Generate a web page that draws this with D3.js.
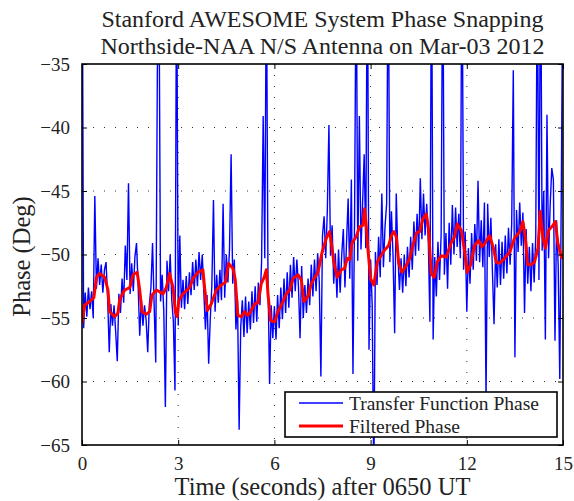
<!DOCTYPE html>
<html>
<head>
<meta charset="utf-8">
<script src="https://cdn.jsdelivr.net/npm/d3@7"></script>
<style>
  html, body { margin: 0; padding: 0; background: #fff; }
  text { font-family: "Liberation Serif", "Times New Roman", serif; fill: #222; }
</style>
</head>
<body>
<div id="main"></div>
<script>
// ---- data ----
const xTicks = [0, 3, 6, 9, 12, 15];
const yTicks = [-65, -60, -55, -50, -45, -40, -35];
const blueStart = 0;      // seconds
const blueStep = 0.05;    // sample spacing, seconds

// transfer function phase (deg), one row per second
const bluePhase = [
  -20, -55.8, -53.0, -54.9, -52.6, -54.3, -52.9, -55.0, -45.4, -52.7, -50.3, -52.4, -50.8, -53.0, -51.2, -50.6, -53.5, -57.7, -53.9, -55.6,
  -54.0, -56.1, -58.4, -53.1, -54.6, -51.9, -53.8, -49.3, -52.0, -44.4, -53.1, -50.7, -52.9, -50.2, -49.1, -52.4, -56.4, -53.5, -55.6, -54.0,
  -55.2, -57.7, -53.9, -52.6, -49.1, -54.0, -58.5, -35.5, -28, -53.7, -51.6, -54.4, -62.0, -50.5, -52.9, -50.0, -53.6, -55.3, -60.7, -25,
  -55.6, -48.5, -54.2, -52.0, -54.3, -51.7, -53.9, -51.4, -53.2, -50.6, -52.8, -50.4, -52.5, -49.8, -52.0, -50.0, -53.0, -55.9, -53.2, -58.6,
  -55.1, -52.4, -45.7, -54.5, -51.6, -53.8, -51.2, -53.6, -46.0, -53.4, -50.0, -52.2, -49.6, -42.1, -52.3, -50.4, -55.9, -53.6, -63.8, -55.7,
  -53.6, -56.5, -53.3, -56.2, -53.7, -55.9, -52.9, -55.4, -52.5, -55.3, -52.2, -54.0, -50.6, -39.1, -50.3, -27, -52.0, -60.2, -54.0, -56.6,
  -54.1, -56.7, -53.2, -55.8, -52.6, -55.1, -51.9, -54.6, -51.4, -54.2, -50.8, -53.4, -50.2, -52.9, -50.4, -52.5, -56.6, -50.9, -55.0, -52.4,
  -54.6, -51.9, -54.0, -50.8, -53.3, -50.4, -52.9, -49.9, -52.2, -59.6, -48.5, -47.0, -50.3, -46.6, -39.8, -50.1, -47.7, -52.3, -49.9, -53.4,
  -49.6, -53.0, -50.0, -48.0, -52.6, -49.0, -45.6, -51.9, -44.1, -59.4, -47.2, -26, -50.5, -39.1, -49.6, -46.0, -42.1, -49.5, -24, -57.5,
  -50.4, -54.0, -68, -49.8, -52.4, -48.6, -51.8, -45.2, -51.0, -47.8, -46.0, -25, -50.6, -46.6, -50.1, -56.2, -45.2, -50.0, -52.8, -50.3,
  -53.0, -50.0, -52.5, -49.4, -51.8, -48.6, -51.2, -47.4, -50.1, -46.8, -49.7, -44.0, -48.8, -45.2, -48.5, -46.0, -49.0, -55.3, -24, -56.7,
  -50.2, -53.3, -49.0, -52.0, -48.4, -25, -51.6, -48.3, -52.7, -47.5, -50.8, -46.1, -50.0, -46.3, -49.4, -46.8, -50.3, -24, -51.2, -48.2,
  -54.5, -49.5, -52.3, -48.3, -51.2, -47.6, -50.5, -44.2, -50.6, -47.3, -51.0, -45.9, -61.5, -46.0, -50.2, -47.1, -51.4, -55.5, -49.2, -52.6,
  -48.8, -52.4, -49.0, -51.9, -48.5, -51.5, -47.9, -50.8, -47.6, -35.5, -58.1, -46.5, -49.8, -45.9, -49.3, -46.7, -54.6, -48.0, -52.3, -49.4,
  -52.9, -49.1, -52.2, -48.6, -26, -52.0, -24, -49.7, -45.0, -56.7, -39.0, -50.3, -46.1, -43.2, -44.1, -56.8, -47.3, -50.9, -59.8, -44.1,
  -25
];

// filtered phase: time (s) and phase (deg)
const redTime = [
  0, 0.08, 0.24, 0.37, 0.45, 0.55, 0.71, 0.81, 0.86, 1.02, 1.12, 1.18, 1.33, 1.49, 1.59, 1.72, 1.80, 1.87,
  2.01, 2.11, 2.18, 2.32, 2.53, 2.63, 2.73, 2.84, 2.91, 2.97, 3.02, 3.15, 3.36, 3.46, 3.62, 3.77, 3.83, 3.91,
  4.03, 4.19, 4.34, 4.47, 4.57, 4.71, 4.78, 4.86, 4.97, 5.07, 5.18, 5.28, 5.38, 5.49, 5.59, 5.68, 5.75, 5.80, 5.88,
  6.01, 6.11, 6.27, 6.37, 6.48, 6.58, 6.74, 6.84, 6.92, 7.05, 7.15, 7.26, 7.36, 7.48, 7.62, 7.72, 7.77, 7.86, 7.96,
  8.09, 8.19, 8.27, 8.35, 8.42, 8.55, 8.66, 8.76, 8.81, 8.86, 8.91, 9.00, 9.10, 9.21, 9.39, 9.49, 9.56, 9.65, 9.73, 9.80, 9.88, 9.98,
  10.08, 10.22, 10.32, 10.43, 10.53, 10.63, 10.74, 10.81, 10.89, 10.98, 11.08, 11.20, 11.36, 11.51, 11.62, 11.70, 11.83, 11.93,
  12.01, 12.12, 12.24, 12.37, 12.47, 12.57, 12.71, 12.82, 12.92, 13.02, 13.18, 13.34, 13.49, 13.65, 13.75, 13.82, 13.90,
  14.01, 14.11, 14.22, 14.29, 14.37, 14.45, 14.55, 14.69, 14.76, 14.84, 14.95, 15
];
const redPhase = [
  -55.4, -54.0, -53.7, -53.4, -51.8, -51.5, -51.8, -52.8, -54.5, -54.9, -54.6, -53.5, -52.8, -52.6, -51.6, -51.4, -52.8, -54.5,
  -54.7, -54.5, -53.2, -52.8, -53.1, -52.6, -51.5, -52.6, -54.5, -54.9, -53.6, -53.1, -52.6, -51.9, -51.4, -51.2, -52.8, -54.4,
  -53.9, -52.8, -52.4, -52.2, -50.7, -51.1, -52.0, -54.8, -54.9, -54.5, -54.8, -54.4, -53.9, -53.8, -52.3, -51.8, -51.2, -53.1, -55.2,
  -55.3, -54.5, -53.7, -53.1, -52.8, -51.9, -51.6, -52.0, -53.7, -53.3, -52.3, -51.8, -51.4, -49.9, -48.7, -48.2, -49.0, -50.7, -51.8,
  -51.2, -51.1, -50.3, -50.4, -49.1, -48.6, -47.8, -47.7, -46.4, -47.6, -49.4, -51.9, -52.4, -50.6, -49.8, -49.5, -49.3, -48.5, -48.2, -48.6, -50.7, -51.4,
  -51.0, -50.3, -49.3, -48.3, -48.2, -47.2, -46.8, -48.1, -51.5, -51.8, -50.6, -50.1, -50.2, -49.1, -48.6, -47.6, -48.1, -49.7,
  -51.4, -50.8, -49.3, -48.9, -49.4, -49.1, -48.5, -49.4, -50.6, -50.7, -50.3, -49.8, -48.7, -48.2, -47.4, -48.6, -50.8,
  -50.8, -50.6, -49.5, -46.6, -48.6, -49.5, -48.1, -47.7, -47.4, -49.1, -50.2, -50.3
];

const legendLabels = ["Transfer Function Phase", "Filtered Phase"];
const seriesColors = ["#0000ff", "#ff0000"];

// ---- layout ----
const width = 574, height = 501;
const plotLeft = 82, plotRight = 563, plotTop = 64, plotBottom = 445;

const svg = d3.select("#main").append("svg")
  .attr("width", width).attr("height", height);

const x = d3.scaleLinear().domain([0, 15]).range([plotLeft, plotRight]);
const y = d3.scaleLinear().domain([-65, -35]).range([plotBottom, plotTop]);

svg.append("clipPath").attr("id", "plotClip")
  .append("rect")
  .attr("x", plotLeft).attr("y", plotTop)
  .attr("width", plotRight - plotLeft).attr("height", plotBottom - plotTop);

// grid (dotted, like matlab's grid on)
const grid = svg.append("g").attr("stroke", "#333").attr("stroke-width", 1)
  .attr("stroke-dasharray", "1,10");
grid.selectAll(".gx").data(xTicks.slice(1, -1)).join("line")
  .attr("x1", d => x(d)).attr("x2", d => x(d))
  .attr("y1", plotTop).attr("y2", plotBottom);
grid.selectAll(".gy").data(yTicks.slice(1, -1)).join("line")
  .attr("x1", plotLeft).attr("x2", plotRight)
  .attr("y1", d => y(d)).attr("y2", d => y(d));

// lines
const plot = svg.append("g").attr("clip-path", "url(#plotClip)");

const blueLine = d3.line()
  .x((d, i) => x(blueStart + i * blueStep))
  .y(d => y(d));
plot.append("path").datum(bluePhase)
  .attr("d", blueLine)
  .attr("fill", "none")
  .attr("stroke", seriesColors[0])
  .attr("stroke-width", 1.4);

const redLine = d3.line()
  .x((d, i) => x(redTime[i]))
  .y(d => y(d));
plot.append("path").datum(redPhase)
  .attr("d", redLine)
  .attr("fill", "none")
  .attr("stroke", seriesColors[1])
  .attr("stroke-width", 3)
  .attr("stroke-linejoin", "round");

// axes: ticks pointing inward
const fmt = d3.format("d");
const xAxis = svg.append("g").attr("transform", `translate(0,${plotBottom})`)
  .call(d3.axisBottom(x).tickValues(xTicks).tickSize(-5).tickPadding(12).tickFormat(fmt));
const xAxisTop = svg.append("g").attr("transform", `translate(0,${plotTop})`)
  .call(d3.axisTop(x).tickValues(xTicks).tickSize(-5).tickFormat(""));
const yAxis = svg.append("g").attr("transform", `translate(${plotLeft},0)`)
  .call(d3.axisLeft(y).tickValues(yTicks).tickSize(-5).tickPadding(12).tickFormat(fmt));
const yAxisRight = svg.append("g").attr("transform", `translate(${plotRight},0)`)
  .call(d3.axisRight(y).tickValues(yTicks).tickSize(-5).tickFormat(""));

[xAxis, xAxisTop, yAxis, yAxisRight].forEach(a => {
  a.select(".domain").remove();
  a.selectAll(".tick line").attr("stroke", "#000").attr("stroke-width", 1);
  a.selectAll("text")
    .style("font-family", '"Liberation Serif", serif')
    .style("font-size", "19px")
    .attr("fill", "#222");
});

svg.append("rect")
  .attr("x", plotLeft).attr("y", plotTop)
  .attr("width", plotRight - plotLeft).attr("height", plotBottom - plotTop)
  .attr("fill", "none").attr("stroke", "#000").attr("stroke-width", 1.6);

// legend
const lg = svg.append("g");
lg.append("rect")
  .attr("x", 285).attr("y", 392).attr("width", 272).attr("height", 45)
  .attr("fill", "#fff").attr("stroke", "#000").attr("stroke-width", 1.6);
legendLabels.forEach((label, i) => {
  const ly = 403 + i * 23;
  lg.append("line")
    .attr("x1", 299).attr("x2", 343).attr("y1", ly).attr("y2", ly)
    .attr("stroke", seriesColors[i]).attr("stroke-width", i === 0 ? 1.6 : 3);
  lg.append("text")
    .attr("x", 349).attr("y", ly + 6.5)
    .style("font-size", "19.5px")
    .text(label);
});

// titles
svg.append("text")
  .attr("x", (plotLeft + plotRight) / 2).attr("y", 27)
  .attr("text-anchor", "middle").style("font-size", "24px")
  .text("Stanford AWESOME System Phase Snapping");
svg.append("text")
  .attr("x", (plotLeft + plotRight) / 2).attr("y", 54)
  .attr("text-anchor", "middle").style("font-size", "24px")
  .text("Northside-NAA N/S Antenna on Mar-03 2012");
svg.append("text")
  .attr("x", (plotLeft + plotRight) / 2).attr("y", 495)
  .attr("text-anchor", "middle").style("font-size", "24.5px")
  .text("Time (seconds) after 0650 UT");
svg.append("text")
  .attr("transform", `translate(30,${(plotTop + plotBottom) / 2 + 2}) rotate(-90)`)
  .attr("text-anchor", "middle").style("font-size", "24.5px")
  .text("Phase (Deg)");
</script>
</body>
</html>
